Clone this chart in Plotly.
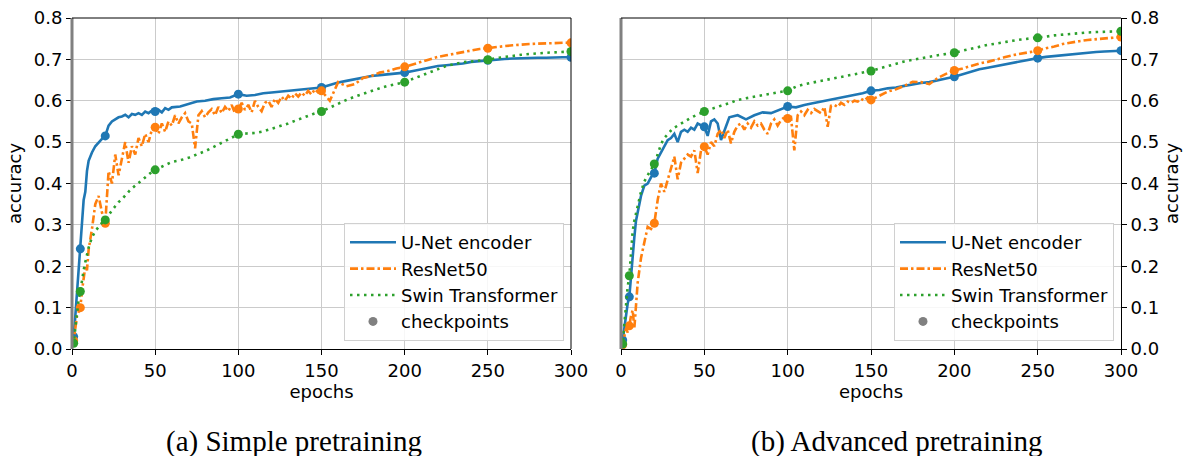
import plotly.graph_objects as go

# ---------------- data ----------------
epochs = list(range(0, 11)) + list(range(12, 61, 2)) + list(range(65, 301, 5))
resnet_epochs = list(range(0, 11)) + list(range(12, 151, 2)) + list(range(155, 301, 5))
checkpoint_epochs = [1, 5, 20, 50, 100, 150, 200, 250, 300]
x_ticks = [0, 50, 100, 150, 200, 250, 300]
y_ticks = [0.0, 0.1, 0.2, 0.3, 0.4, 0.5, 0.6, 0.7, 0.8]
series_names = ["U-Net encoder", "ResNet50", "Swin Transformer"]
captions = ["(a) Simple pretraining", "(b) Advanced pretraining"]

# (a) Simple pretraining
simple_unet = [
    0.02, 0.03, 0.08, 0.14, 0.20, 0.242, 0.32, 0.36, 0.38, 0.43, 0.455,
    0.475, 0.49, 0.50, 0.508, 0.515, 0.54, 0.55, 0.555, 0.56, 0.562, 0.566, 0.560, 0.568,
    0.566, 0.570, 0.566, 0.574, 0.570, 0.576, 0.574, 0.578, 0.572, 0.582, 0.578, 0.584,
    0.586, 0.592, 0.598, 0.600, 0.604, 0.606, 0.608, 0.616, 0.612, 0.614, 0.618, 0.620,
    0.622, 0.624, 0.626, 0.628, 0.630, 0.632, 0.638, 0.644, 0.648, 0.652, 0.656, 0.660,
    0.662, 0.664, 0.666, 0.668, 0.672, 0.676, 0.680, 0.684, 0.686, 0.688, 0.690, 0.694,
    0.696, 0.698, 0.700, 0.701, 0.702, 0.703, 0.703, 0.704, 0.704, 0.705, 0.705, 0.705,
]
simple_resnet = [
    0.01, 0.02, 0.05, 0.08, 0.09, 0.10, 0.14, 0.17, 0.20, 0.19, 0.24,
    0.29, 0.35, 0.37, 0.33, 0.304, 0.43, 0.40, 0.47, 0.42, 0.46, 0.50, 0.45, 0.49,
    0.47, 0.51, 0.49, 0.52, 0.50, 0.53, 0.536, 0.52, 0.545, 0.525, 0.55, 0.54,
    0.565, 0.545, 0.56, 0.57, 0.55, 0.545, 0.485, 0.565, 0.575, 0.56,
    0.572, 0.58, 0.565, 0.585, 0.57, 0.585, 0.575, 0.59, 0.57, 0.58,
    0.595, 0.578, 0.59, 0.572, 0.60, 0.585, 0.575, 0.595, 0.60, 0.585,
    0.605, 0.595, 0.61, 0.60, 0.612, 0.605, 0.618, 0.61, 0.62, 0.612,
    0.624, 0.615, 0.628, 0.62, 0.624,
    0.600, 0.645, 0.635, 0.640, 0.655, 0.660, 0.668, 0.672, 0.678, 0.682,
    0.688, 0.694, 0.700, 0.706, 0.710, 0.714, 0.718, 0.722, 0.725, 0.727,
    0.730, 0.732, 0.734, 0.736, 0.737, 0.738, 0.739, 0.739, 0.740, 0.740,
]
simple_swin = [
    0.01, 0.014, 0.05, 0.09, 0.12, 0.139, 0.17, 0.19, 0.21, 0.23, 0.245,
    0.27, 0.285, 0.295, 0.305, 0.312, 0.325, 0.335, 0.345, 0.355, 0.362, 0.372, 0.38, 0.388,
    0.395, 0.40, 0.408, 0.415, 0.422, 0.428, 0.433, 0.437, 0.44, 0.444, 0.448, 0.452,
    0.456, 0.462, 0.470, 0.478, 0.488, 0.498, 0.508, 0.519, 0.521, 0.522, 0.526, 0.532,
    0.538, 0.545, 0.553, 0.561, 0.568, 0.574, 0.584, 0.594, 0.602, 0.610, 0.617, 0.624,
    0.630, 0.636, 0.641, 0.645, 0.653, 0.661, 0.669, 0.677, 0.684, 0.689, 0.693, 0.695,
    0.697, 0.699, 0.703, 0.706, 0.709, 0.711, 0.713, 0.715, 0.716, 0.717, 0.718, 0.719,
]

# (b) Advanced pretraining
adv_unet = [
    0.01, 0.022, 0.05, 0.08, 0.11, 0.126, 0.18, 0.23, 0.27, 0.31, 0.33,
    0.37, 0.395, 0.40, 0.415, 0.425, 0.46, 0.475, 0.49, 0.505, 0.51, 0.52, 0.50, 0.525,
    0.53, 0.525, 0.535, 0.53, 0.545, 0.54, 0.537, 0.515, 0.55, 0.555, 0.545, 0.505,
    0.56, 0.565, 0.555, 0.565, 0.572, 0.57, 0.578, 0.586, 0.584, 0.59, 0.594, 0.598,
    0.602, 0.606, 0.61, 0.614, 0.618, 0.624, 0.626, 0.630, 0.632, 0.636, 0.640, 0.643,
    0.645, 0.650, 0.654, 0.658, 0.664, 0.670, 0.676, 0.680, 0.684, 0.688, 0.691, 0.695,
    0.699, 0.703, 0.706, 0.708, 0.711, 0.713, 0.715, 0.717, 0.718, 0.719, 0.720, 0.721,
]
adv_resnet = [
    0.005, 0.01, 0.03, 0.05, 0.04, 0.056, 0.08, 0.094, 0.05, 0.12, 0.16,
    0.22, 0.26, 0.295, 0.29, 0.304, 0.36, 0.40, 0.38, 0.41, 0.44, 0.465, 0.41, 0.45,
    0.46, 0.47, 0.465, 0.48, 0.425, 0.48, 0.489, 0.47, 0.50, 0.49, 0.52, 0.53,
    0.51, 0.53, 0.497, 0.525, 0.54, 0.545, 0.53, 0.545, 0.535, 0.55,
    0.54, 0.545, 0.53, 0.52, 0.545, 0.555, 0.54, 0.553, 0.56, 0.557,
    0.56, 0.48, 0.565, 0.574, 0.565, 0.578, 0.57, 0.58, 0.575, 0.57,
    0.585, 0.537, 0.588, 0.59, 0.585, 0.595, 0.59, 0.598, 0.595, 0.60,
    0.598, 0.605, 0.60, 0.608, 0.602,
    0.612, 0.622, 0.628, 0.636, 0.646, 0.645, 0.640, 0.655, 0.665, 0.673,
    0.678, 0.684, 0.690, 0.694, 0.700, 0.705, 0.710, 0.714, 0.718, 0.721,
    0.727, 0.731, 0.737, 0.741, 0.744, 0.747, 0.749, 0.751, 0.753, 0.754,
]
adv_swin = [
    0.005, 0.012, 0.06, 0.11, 0.15, 0.177, 0.24, 0.285, 0.31, 0.33, 0.345,
    0.38, 0.405, 0.42, 0.435, 0.447, 0.47, 0.495, 0.51, 0.52, 0.528, 0.535, 0.54, 0.546,
    0.551, 0.555, 0.559, 0.563, 0.567, 0.571, 0.574, 0.577, 0.58, 0.583, 0.586, 0.588,
    0.594, 0.602, 0.606, 0.61, 0.614, 0.618, 0.621, 0.624, 0.634, 0.64, 0.644, 0.649,
    0.653, 0.657, 0.661, 0.665, 0.669, 0.672, 0.678, 0.684, 0.689, 0.695, 0.699, 0.703,
    0.707, 0.710, 0.713, 0.716, 0.721, 0.726, 0.731, 0.735, 0.738, 0.742, 0.745, 0.748,
    0.750, 0.752, 0.755, 0.758, 0.760, 0.762, 0.764, 0.765, 0.766, 0.767, 0.768, 0.768,
]

# ---------------- style ----------------
W, H = 1187, 456
colors = ["#1f77b4", "#ff7f0e", "#2ca02c"]
dashes = ["solid", "8px,3px,2.5px,3px", "2.5px,4.5px"]
FONT = "DejaVu Sans"
FS = 18


def px(x):
    return x / W


def py(y):
    return 1 - y / H


fig = go.Figure()

panels = [
    ("x", "y", "legend",
     [(epochs, simple_unet), (resnet_epochs, simple_resnet), (epochs, simple_swin)]),
    ("x2", "y2", "legend2",
     [(epochs, adv_unet), (resnet_epochs, adv_resnet), (epochs, adv_swin)]),
]

for xa, ya, leg, data in panels:
    for name, col, dash, (ex, vals) in zip(series_names, colors, dashes, data):
        fig.add_trace(go.Scatter(
            x=ex, y=vals, mode="lines", xaxis=xa, yaxis=ya,
            line=dict(color=col, width=2.6, dash=dash), showlegend=False,
            hoverinfo="skip"))
        ck = [vals[ex.index(e)] for e in checkpoint_epochs]
        fig.add_trace(go.Scatter(
            x=checkpoint_epochs, y=ck, mode="markers", xaxis=xa, yaxis=ya,
            marker=dict(color=col, size=9), showlegend=False, hoverinfo="skip"))
    # legend entries
    for i, (name, col, dash) in enumerate(zip(series_names, colors, dashes)):
        fig.add_trace(go.Scatter(
            x=[None], y=[None], mode="lines", name=name, xaxis=xa, yaxis=ya,
            line=dict(color=col, width=2.6, dash=dash), legend=leg,
            legendgroup=f"{leg}{i}"))
    fig.add_trace(go.Scatter(
        x=[None], y=[None], mode="markers", name="checkpoints", xaxis=xa, yaxis=ya,
        marker=dict(color="#808080", size=9), legend=leg, legendgroup=f"{leg}3"))

ydom = [py(349), py(18)]
xdoms = [[px(72), px(571)], [px(621), px(1121)]]

common_x = dict(range=[0, 300], tickvals=x_ticks, ticks="outside", ticklen=5,
                tickcolor="black", showgrid=True, gridcolor="#cbcbcb", gridwidth=1,
                showline=True, linecolor="black", linewidth=1, mirror=False,
                zeroline=False, automargin=False,
                tickfont=dict(family=FONT, size=FS, color="black"),
                title=dict(text="epochs", font=dict(family=FONT, size=FS, color="black"),
                           standoff=3))
common_y = dict(range=[0, 0.8], tickvals=y_ticks, tickformat=".1f", ticks="outside",
                ticklen=5, tickcolor="black", showgrid=True, gridcolor="#cbcbcb",
                gridwidth=1, zeroline=False, domain=ydom, automargin=False,
                tickfont=dict(family=FONT, size=FS, color="black"),
                title=dict(text="accuracy", font=dict(family=FONT, size=FS, color="black"),
                           standoff=7))

legend_common = dict(xanchor="right", y=py(341), yanchor="bottom",
                     bgcolor="rgba(255,255,255,0.85)", bordercolor="#d0d0d0",
                     borderwidth=1, font=dict(family=FONT, size=18, color="black"),
                     tracegroupgap=0, traceorder="grouped", itemwidth=46)

fig.update_layout(
    width=W, height=H, autosize=False,
    margin=dict(l=0, r=0, t=0, b=0, pad=0, autoexpand=False),
    paper_bgcolor="white", plot_bgcolor="white",
    xaxis=dict(common_x, domain=xdoms[0], anchor="y"),
    yaxis=dict(common_y, anchor="x", showline=False, side="left"),
    xaxis2=dict(common_x, domain=xdoms[1], anchor="y2"),
    yaxis2=dict(common_y, anchor="x2", side="right", showline=True,
                linecolor="black", linewidth=1),
    legend=dict(legend_common, x=px(564)),
    legend2=dict(legend_common, x=px(1114)),
)

shapes = []
for xa, ya in [("x", "y"), ("x2", "y2")]:
    # thick grey left edge
    shapes.append(dict(type="line", xref=f"{xa} domain", yref=f"{ya} domain",
                       x0=0, x1=0, y0=0, y1=1, line=dict(color="#808080", width=3)))
    # top frame
    shapes.append(dict(type="line", xref=f"{xa} domain", yref=f"{ya} domain",
                       x0=0, x1=1, y0=1, y1=1, line=dict(color="black", width=1)))
# right frame of left panel
shapes.append(dict(type="line", xref="x domain", yref="y domain",
                   x0=1, x1=1, y0=0, y1=1, line=dict(color="black", width=1)))
fig.update_layout(shapes=shapes)

for cap, cx in zip(captions, [294, 897]):
    fig.add_annotation(text=cap, x=px(cx), y=py(441), xref="paper", yref="paper",
                       showarrow=False, xanchor="center", yanchor="middle",
                       font=dict(family="Liberation Serif", size=29, color="black"))

fig.write_html(
    "out.html",
    config={"displayModeBar": False, "responsive": False},
    post_script="document.body.style.margin='0px';document.body.style.padding='0px';",
)
